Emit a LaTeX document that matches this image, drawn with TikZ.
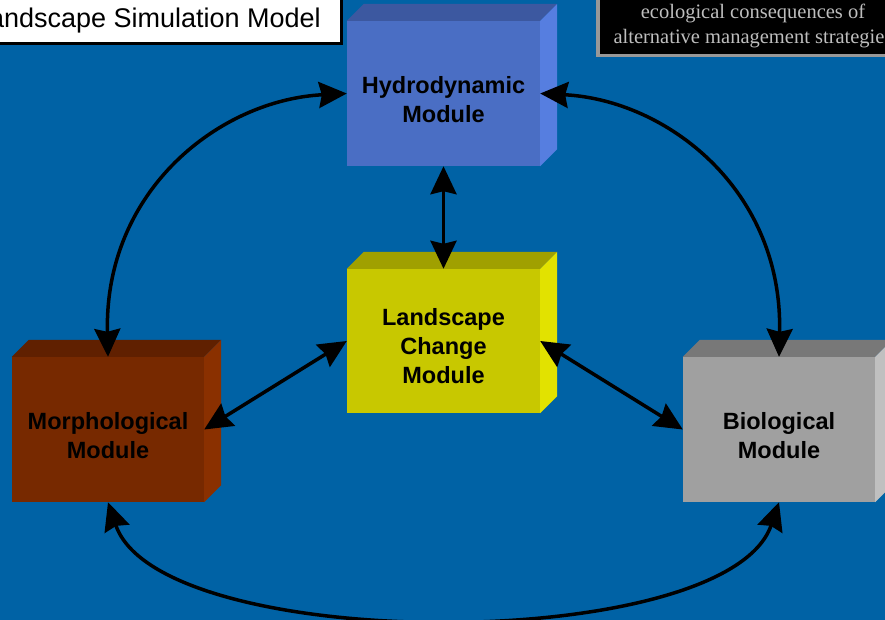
\documentclass[tikz,border=0pt]{standalone}
\usepackage{fontspec}
\setmainfont{Liberation Sans}
\newfontfamily\serifgray{Liberation Serif}
\usetikzlibrary{arrows.meta}
\definecolor{bgblue}{RGB}{0,98,165}
\definecolor{hydF}{RGB}{74,110,196}
\definecolor{hydT}{RGB}{60,88,160}
\definecolor{hydR}{RGB}{86,126,224}
\definecolor{lanF}{RGB}{200,200,0}
\definecolor{lanT}{RGB}{160,160,0}
\definecolor{lanR}{RGB}{226,226,0}
\definecolor{morF}{RGB}{119,41,0}
\definecolor{morT}{RGB}{96,32,0}
\definecolor{morR}{RGB}{138,48,0}
\definecolor{bioF}{RGB}{160,160,160}
\definecolor{bioT}{RGB}{120,120,120}
\definecolor{bioR}{RGB}{192,192,192}
\definecolor{notegray}{RGB}{190,190,190}
\newcommand\boxsides[3]{%
  \fill[#2] (#1.north west) -- ++(17,-17) -- ([shift={(17,-17)}]#1.north east) -- (#1.north east) -- cycle;
  \fill[#3] (#1.north east) -- ++(17,-17) -- ([shift={(17,-17)}]#1.south east) -- (#1.south east) -- cycle;
}
\tikzset{
  face/.style={rectangle, inner sep=0pt, minimum width=193pt, minimum height=145pt},
  lbl/.style={font=\fontsize{23.5}{29}\selectfont\bfseries, align=center, text=black, inner sep=0pt},
  link/.style={line width=3.5pt, {Stealth[length=28pt,width=26pt,inset=3pt]}-{Stealth[length=28pt,width=26pt,inset=3pt]}},
}
\begin{document}
\begin{tikzpicture}[x=1pt,y=-1pt]
\useasboundingbox (0,0) rectangle (885,620);
\fill[bgblue] (0,0) rectangle (885,620);

% title box
\fill[black] (-20,-5) rectangle (343,45);
\fill[white] (-20,-5) rectangle (340,42);
\node[anchor=base east, inner sep=0pt, font=\fontsize{27}{32}\selectfont] (title) at (321,28) {Landscape Simulation Model};

% note box
\fill[notegray!80!black] (596,-5) rectangle (900,57);
\fill[black] (600,-5) rectangle (900,54);
\node[anchor=center, inner sep=0pt, align=center, text=notegray, font=\serifgray\fontsize{20.5}{25}\selectfont] (note) at (753,26) {ecological consequences of\\alternative management strategies};

% boxes
\node[face, fill=hydF] (h) at (443.5,93.5) {};
\boxsides{h}{hydT}{hydR}
\node[face, fill=lanF, minimum height=144pt] (l) at (443.5,341) {};
\boxsides{l}{lanT}{lanR}
\node[face, fill=morF, minimum width=192pt] (m) at (108,429.5) {};
\boxsides{m}{morT}{morR}
\node[face, fill=bioF, minimum width=192pt] (b) at (779,429.5) {};
\boxsides{b}{bioT}{bioR}

\node[lbl] (hl) at ([yshift=-6.5pt]h.center) {Hydrodynamic\\Module};
\node[lbl] (ll) at ([yshift=-5.5pt]l.center) {Landscape\\Change\\Module};
\node[lbl] (ml) at ([yshift=-6.5pt]m.center) {Morphological\\Module};
\node[lbl] (bl) at ([yshift=-6.5pt]b.center) {Biological\\Module};

% connectors
\draw[link] (m.north) .. controls (104,190) and (220,100) .. (h.west);
\draw[link] (b.north) .. controls (783,190) and (667,100) .. (h.east);
\draw[link] (h.south) -- (l.north);
\draw[link] (l.west) -- (m.east);
\draw[link] (l.east) -- (b.west);
\draw[link] (m.south) .. controls (160,655) and (727,655) .. (b.south);
\end{tikzpicture}
\end{document}
